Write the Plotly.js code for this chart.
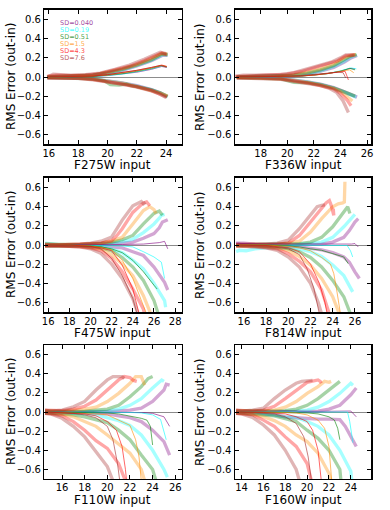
<!DOCTYPE html>
<html>
<head>
<meta charset="utf-8">
<script src="https://cdn.plot.ly/plotly-3.0.1.min.js"></script>
<style>
  html, body { margin: 0; padding: 0; background: #fff; }
  #chart { width: 390px; height: 510px; }
</style>
</head>
<body>
<div id="chart"></div>
<script>
// SD order: 0.040 purple, 0.19 cyan, 0.51 green, 1.5 orange, 4.3 red, 7.6 brown
const SD_LABELS = ["SD=0.040", "SD=0.19", "SD=0.51", "SD=1.5", "SD=4.3", "SD=7.6"];
const SD_RGB = [[128, 0, 128], [0, 255, 255], [0, 128, 0], [255, 140, 0], [255, 0, 0], [165, 42, 42]];
const FILTERS = ["F275W", "F336W", "F475W", "F814W", "F110W", "F160W"];
const Y_TICKS = [-0.6, -0.4, -0.2, 0, 0.2, 0.4, 0.6];

// each series is a flat list: x0, y0, x1, y1, ...
const F275W_UP = [
  [15.9,0.0, 17,0.005, 18,0.01, 19,0.02, 20,0.04, 21,0.07, 22,0.115, 23,0.17, 23.8,0.23, 24.1,0.225],
  [15.9,0.005, 17,0.005, 18,0.01, 19,0.02, 20,0.04, 21,0.075, 22,0.12, 23,0.175, 23.8,0.235, 24.1,0.23],
  [15.9,0.0, 17,0.005, 18,0.01, 19,0.02, 20,0.045, 21,0.08, 22,0.125, 23,0.18, 23.7,0.24, 24.1,0.235],
  [15.9,0.005, 17,0.01, 18,0.01, 19,0.02, 20,0.05, 21,0.085, 22,0.13, 23,0.19, 23.7,0.245, 24.1,0.24],
  [15.9,0.01, 16.5,0.02, 17.5,0.015, 18.5,0.02, 19.5,0.035, 20.5,0.07, 21.5,0.11, 22.5,0.17, 23.3,0.225, 23.7,0.25, 24.05,0.235],
  [15.9,0.0, 16.3,0.03, 16.8,0.025, 17.5,0.02, 18.5,0.025, 19.5,0.04, 20.5,0.08, 21.5,0.125, 22.5,0.185, 23.2,0.235, 23.6,0.26, 24.0,0.245],
];
const F275W_LO = [
  [15.9,-0.005, 17,-0.005, 18,-0.01, 19,-0.02, 20,-0.04, 21,-0.06, 22,-0.09, 23,-0.13, 23.6,-0.165, 24.1,-0.205],
  [15.9,-0.005, 17,-0.005, 18,-0.01, 19,-0.02, 20,-0.04, 21,-0.065, 22,-0.095, 23,-0.135, 23.6,-0.17, 24.1,-0.21],
  [15.9,-0.005, 17,-0.01, 18,-0.01, 19,-0.02, 19.8,-0.04, 20.2,-0.08, 20.8,-0.085, 21.3,-0.075, 21.6,-0.09, 22,-0.1, 23,-0.135, 23.6,-0.165, 24.1,-0.2],
  [15.9,-0.005, 17,-0.01, 18,-0.01, 19,-0.025, 20,-0.045, 21,-0.065, 22,-0.1, 23,-0.14, 23.6,-0.17, 24.1,-0.2],
  [15.9,-0.01, 17,-0.01, 18,-0.015, 19,-0.025, 20,-0.05, 21,-0.07, 22,-0.1, 23,-0.14, 23.6,-0.175, 24.05,-0.21],
  [15.9,-0.01, 17,-0.015, 18,-0.015, 19,-0.03, 20,-0.05, 21,-0.075, 22,-0.105, 23,-0.145, 23.6,-0.18, 24.0,-0.215],
];
const F275W_MID = [
  [15.9,0.0, 18,0.0, 19,0.005, 20,0.015, 21,0.03, 22,0.05, 23,0.08, 23.7,0.11, 24.05,0.1],
  [15.9,0.0, 18,0.0, 19,0.005, 20,0.015, 21,0.03, 22,0.055, 23,0.085, 23.7,0.115, 24.05,0.105],
  [15.9,0.0, 18,0.0, 19,0.005, 20,0.02, 21,0.035, 22,0.06, 23,0.09, 23.7,0.12, 24.05,0.105],
  [15.9,0.0, 18,0.005, 19,0.01, 20,0.02, 21,0.04, 22,0.065, 23,0.095, 23.7,0.12, 24.05,0.11],
  [15.9,0.0, 18,0.005, 19,0.01, 20,0.025, 21,0.045, 22,0.07, 23,0.1, 23.7,0.125, 24.05,0.11],
  [15.9,0.005, 18,0.005, 19,0.01, 20,0.025, 21,0.045, 22,0.07, 23,0.1, 23.6,0.12, 24.0,0.105],
];

const F336W_UP = [
  [16.2,0.0, 18,0.005, 19.5,0.01, 20.5,0.015, 21.5,0.03, 22.5,0.06, 23.5,0.1, 24.3,0.155, 24.8,0.2, 25.25,0.225],
  [16.2,0.0, 18,0.005, 19.5,0.01, 20.5,0.02, 21.5,0.035, 22.5,0.065, 23.5,0.11, 24.3,0.165, 24.8,0.21, 25.25,0.23],
  [16.2,0.0, 18,0.005, 19.5,0.01, 20.5,0.02, 21.5,0.04, 22.5,0.075, 23.5,0.12, 24.2,0.17, 24.7,0.215, 25.2,0.235],
  [16.2,0.0, 18,0.005, 19.5,0.01, 20.5,0.025, 21.5,0.05, 22.5,0.085, 23.5,0.135, 24.3,0.2, 24.8,0.225, 25.2,0.235],
  [16.1,0.005, 17.5,0.015, 18.8,0.02, 20,0.03, 21,0.055, 22,0.095, 23,0.13, 23.8,0.17, 24.4,0.22, 25.1,0.235],
  [16.1,0.01, 16.7,0.02, 17.5,0.02, 18.5,0.02, 19.5,0.025, 20.5,0.045, 21.5,0.085, 22.5,0.12, 23.3,0.155, 24,0.2, 24.4,0.23, 25.0,0.23],
];
const F336W_LO = [
  [16.2,-0.005, 18,-0.005, 19.5,-0.015, 20.5,-0.03, 21.5,-0.05, 22.5,-0.075, 23.5,-0.11, 24.2,-0.15, 24.8,-0.185, 25.25,-0.21],
  [16.2,-0.005, 18,-0.005, 19.5,-0.015, 20.5,-0.03, 21.5,-0.05, 22.5,-0.08, 23.5,-0.115, 24,-0.145, 24.6,-0.175, 25.2,-0.21],
  [16.2,-0.005, 18,-0.01, 19.5,-0.02, 20.5,-0.055, 21.5,-0.06, 22.5,-0.08, 23.5,-0.115, 24.2,-0.15, 24.7,-0.18, 25.1,-0.2],
  [16.2,-0.005, 18,-0.01, 19.5,-0.02, 20.5,-0.035, 21.5,-0.055, 22.5,-0.085, 23.5,-0.12, 24,-0.15, 24.5,-0.2, 24.9,-0.25],
  [16.2,-0.01, 18,-0.01, 19.5,-0.02, 20.5,-0.04, 21.5,-0.06, 22.5,-0.09, 23.5,-0.125, 24,-0.17, 24.5,-0.24, 24.8,-0.3],
  [16.2,-0.01, 18,-0.015, 19.5,-0.025, 20.5,-0.045, 21.5,-0.065, 22.5,-0.09, 23.2,-0.12, 23.7,-0.16, 24.2,-0.25, 24.6,-0.37],
];
const F336W_MID = [
  [16.2,0.0, 19,0.0, 21,0.01, 22,0.02, 23,0.035, 24,0.06, 24.7,0.09, 25.1,0.085],
  [16.2,0.0, 19,0.0, 21,0.01, 22,0.02, 23,0.035, 24,0.065, 24.8,0.095, 25.2,0.085],
  [16.2,0.0, 19,0.005, 21,0.01, 22,0.02, 23,0.035, 24,0.06, 24.7,0.09, 25.1,0.075],
  [16.2,0.0, 19,0.005, 21,0.01, 22,0.02, 23,0.035, 24,0.06, 24.7,0.075, 25.0,0.045],
  [16.2,0.0, 19,0.005, 21,0.01, 22,0.02, 23,0.035, 24,0.055, 24.35,0.06, 24.6,-0.03],
  [16.2,0.005, 19,0.005, 21,0.015, 22,0.025, 23,0.035, 23.8,0.05, 24.2,0.045, 24.4,-0.01],
];

const F475W_UP = [
  [15.7,0.01, 17,0.0, 19,0.005, 21,0.01, 22,0.015, 23,0.02, 24,0.03, 25,0.07, 26,0.12, 26.5,0.18, 26.8,0.24, 27.3,0.265],
  [15.7,0.02, 17,0.005, 19,0.005, 21,0.01, 22,0.02, 23,0.035, 24,0.06, 25,0.13, 26,0.22, 26.5,0.28, 26.7,0.31, 27.0,0.32],
  [15.7,0.01, 17,0.005, 19,0.005, 21,0.015, 22,0.03, 23,0.055, 24,0.1, 25,0.22, 26,0.33, 26.5,0.355, 26.8,0.31],
  [15.7,0.01, 17,0.005, 19,0.01, 21,0.02, 22,0.04, 23,0.08, 24,0.22, 25,0.36, 25.6,0.4, 26.0,0.37, 26.2,0.33],
  [15.7,0.0, 17,0.0, 19,0.01, 21,0.02, 22,0.045, 22.5,0.1, 23,0.17, 24,0.34, 25,0.44, 25.3,0.45, 25.6,0.41],
  [15.7,0.0, 17,0.0, 19,0.01, 20,0.02, 21,0.04, 22,0.084, 22.5,0.17, 23,0.26, 24,0.41, 24.5,0.44, 24.8,0.455, 25.0,0.43, 25.2,0.445],
];
const F475W_LO = [
  [15.7,-0.01, 17,-0.005, 19,-0.005, 21,-0.01, 22,-0.02, 23,-0.03, 24,-0.07, 25,-0.11, 26,-0.23, 27,-0.39, 27.3,-0.47],
  [15.7,-0.01, 17,-0.005, 19,-0.01, 21,-0.02, 22,-0.04, 23,-0.08, 24,-0.16, 25,-0.25, 26,-0.4, 27,-0.58, 27.1,-0.65],
  [15.7,-0.01, 17,-0.01, 19,-0.01, 21,-0.03, 22,-0.06, 23,-0.13, 24,-0.23, 25,-0.37, 26,-0.58, 26.4,-0.72],
  [15.7,-0.01, 17,-0.01, 19,-0.015, 21,-0.04, 22,-0.1, 23,-0.2, 24,-0.32, 25,-0.53, 25.7,-0.72],
  [15.7,-0.01, 17,-0.01, 19,-0.02, 20,-0.03, 21,-0.06, 22,-0.14, 23,-0.28, 24,-0.46, 25,-0.67, 25.1,-0.72],
  [15.7,-0.01, 17,-0.01, 19,-0.02, 20,-0.04, 21,-0.09, 22,-0.2, 23,-0.35, 24,-0.56, 24.5,-0.72],
];
const F475W_MID = [
  [15.7,0.0, 18,0.0, 21,0.0, 23,0.005, 25,0.01, 26,0.015, 26.5,0.025, 27,0.038, 27.3,-0.04],
  [15.7,0.0, 18,0.0, 21,-0.005, 23,-0.01, 24,-0.02, 25,-0.07, 26,-0.125, 26.7,-0.18, 27.0,-0.35],
  [15.7,0.0, 18,0.0, 20,-0.01, 21,-0.02, 22,-0.04, 23,-0.08, 24,-0.16, 25,-0.28, 26,-0.42, 26.3,-0.46],
  [15.7,0.0, 18,0.0, 20,-0.01, 21,-0.025, 22,-0.05, 23,-0.16, 24,-0.35, 25,-0.63, 25.3,-0.72],
  [15.7,0.0, 18,0.0, 20,-0.015, 21,-0.03, 22,-0.06, 23,-0.21, 24,-0.46, 24.6,-0.72],
  [15.7,0.0, 18,-0.005, 20,-0.015, 21,-0.04, 22,-0.14, 23,-0.32, 24,-0.56, 24.4,-0.72],
];

const F814W_UP = [
  [15.3,0.02, 16,0.02, 17,0.01, 19,0.005, 21,0.005, 23,0.01, 24,0.03, 25,0.08, 25.5,0.15, 26,0.24, 26.3,0.275],
  [15.3,0.0, 17,0.005, 19,0.005, 21,0.01, 22,0.015, 23,0.03, 24,0.08, 25,0.19, 25.6,0.275, 26.0,0.32],
  [15.3,0.0, 17,0.005, 19,0.01, 21,0.015, 22,0.03, 23,0.08, 24,0.19, 25,0.345, 25.35,0.40, 25.55,0.33],
  [15.3,0.005, 17,0.005, 19,0.01, 20,0.02, 21,0.04, 22,0.135, 23,0.275, 24,0.40, 24.5,0.43, 24.9,0.44, 25.05,0.45, 25.1,0.66],
  [15.3,0.005, 17,0.005, 19,0.01, 20,0.02, 21,0.1, 22,0.24, 23,0.39, 23.4,0.44, 23.7,0.465, 23.85,0.42, 24.1,0.31, 24.05,0.38],
  [15.3,0.01, 17,0.005, 18,0.01, 19,0.02, 20,0.05, 21,0.17, 22,0.31, 22.6,0.40, 23,0.415, 23.3,0.42],
];
const F814W_LO = [
  [15.3,0.0, 17,-0.005, 19,-0.01, 21,-0.02, 23,-0.05, 24,-0.08, 25,-0.125, 25.5,-0.18, 26,-0.28, 26.4,-0.35],
  [15.3,-0.07, 15.6,-0.055, 16.2,-0.06, 17,-0.04, 18,-0.03, 20,-0.03, 21,-0.04, 22,-0.07, 23,-0.12, 24,-0.21, 25,-0.32, 25.8,-0.49],
  [15.3,-0.01, 17,-0.01, 19,-0.02, 20,-0.04, 21,-0.07, 22,-0.13, 23,-0.23, 24,-0.37, 25,-0.54, 25.6,-0.72],
  [15.3,-0.01, 17,-0.01, 19,-0.03, 20,-0.06, 21,-0.12, 22,-0.21, 23,-0.35, 24,-0.54, 24.6,-0.72],
  [15.3,-0.01, 17,-0.015, 19,-0.04, 20,-0.09, 21,-0.17, 22,-0.28, 23,-0.47, 23.5,-0.63, 23.7,-0.72],
  [15.3,-0.01, 17,-0.02, 18,-0.03, 19,-0.055, 20,-0.125, 21,-0.23, 22,-0.4, 22.7,-0.6, 23.0,-0.72],
];
const F814W_MID = [
  [15.3,0.02, 16,0.015, 18,0.01, 20,0.01, 22,0.005, 24,0.005, 25,0.005, 25.7,0.01, 26,0.015, 26.3,-0.02],
  [15.3,0.0, 18,0.0, 20,0.0, 22,-0.005, 24,-0.005, 25.3,-0.005, 25.6,-0.06, 25.8,-0.125],
  [15.3,0.0, 18,0.0, 20,-0.01, 21,-0.02, 22,-0.04, 23,-0.055, 24,-0.09, 25,-0.125, 25.4,-0.195],
  [15.3,0.0, 18,0.0, 20,-0.015, 21,-0.03, 22,-0.06, 23,-0.13, 23.8,-0.2, 24.1,-0.3, 24.4,-0.5, 24.7,-0.72],
  [15.3,0.0, 18,-0.005, 20,-0.03, 21,-0.07, 22,-0.2, 22.8,-0.4, 23.3,-0.6, 23.5,-0.72],
  [15.3,0.0, 18,-0.01, 20,-0.04, 21,-0.1, 21.7,-0.25, 22.3,-0.45, 22.8,-0.72],
];

const F110W_UP = [
  [14.5,0.01, 16,0.005, 18,0.005, 20,0.005, 22,0.02, 23,0.04, 24,0.11, 25,0.23, 25.2,0.29, 25.5,0.28],
  [14.5,0.01, 16,0.005, 18,0.005, 20,0.01, 21,0.03, 22,0.07, 23,0.14, 24,0.25, 24.8,0.335, 25.0,0.32],
  [14.5,0.01, 16,0.005, 18,0.01, 19,0.02, 20,0.03, 21,0.07, 22,0.16, 23,0.265, 23.6,0.35, 24.0,0.37],
  [14.5,0.015, 16,0.01, 17,0.02, 18,0.03, 19,0.05, 20,0.11, 21,0.195, 22,0.3, 22.5,0.37, 23,0.37, 23.3,0.28],
  [14.5,0.02, 16,0.015, 17,0.03, 18,0.06, 19,0.125, 20,0.23, 21,0.335, 21.5,0.37, 22,0.36, 22.3,0.33, 22.6,0.32],
  [14.5,0.02, 15,0.01, 16,0.02, 17,0.055, 18,0.11, 19,0.23, 20,0.335, 20.5,0.37, 21.3,0.37, 21.5,0.35],
];
const F110W_LO = [
  [14.5,-0.01, 16,-0.005, 18,-0.01, 20,-0.02, 21,-0.04, 22,-0.06, 23,-0.1, 24,-0.19, 25,-0.31, 25.5,-0.45],
  [14.5,-0.01, 16,-0.01, 18,-0.02, 19,-0.03, 20,-0.06, 21,-0.09, 22,-0.14, 23,-0.24, 24,-0.4, 25,-0.6, 25.3,-0.68],
  [14.5,-0.01, 16,-0.02, 17,-0.03, 18,-0.05, 19,-0.08, 20,-0.11, 21,-0.19, 22,-0.29, 23,-0.45, 24,-0.6, 24.3,-0.72],
  [14.5,-0.01, 16,-0.025, 17,-0.05, 18,-0.1, 19,-0.15, 20,-0.24, 21,-0.33, 22,-0.43, 23,-0.6, 23.3,-0.72],
  [14.5,-0.015, 15,-0.02, 16,-0.04, 17,-0.1, 18,-0.19, 19,-0.3, 20,-0.38, 21,-0.54, 21.6,-0.72],
  [14.5,-0.015, 15,-0.02, 16,-0.066, 17,-0.15, 18,-0.26, 19,-0.41, 20,-0.57, 20.5,-0.72],
];
const F110W_MID = [
  [14.5,0.0, 18,0.0, 22,0.0, 23,-0.005, 24,-0.014, 25,-0.05, 25.5,-0.15],
  [14.5,0.0, 18,0.0, 22,-0.005, 23,-0.01, 24,-0.03, 24.7,-0.077, 25.0,-0.19, 25.2,-0.29],
  [14.5,0.0, 18,-0.005, 20,-0.01, 21,-0.02, 22,-0.04, 23,-0.066, 23.5,-0.085, 23.8,-0.15, 24.0,-0.345],
  [14.5,0.0, 18,-0.01, 19,-0.02, 20,-0.03, 21,-0.085, 22,-0.14, 22.5,-0.29, 22.8,-0.47, 23.0,-0.72],
  [14.5,0.0, 17,-0.01, 18,-0.02, 19,-0.04, 20,-0.1, 20.8,-0.19, 21.3,-0.36, 21.6,-0.6, 21.7,-0.72],
  [14.5,0.0, 17,-0.015, 18,-0.03, 19,-0.06, 20,-0.15, 20.5,-0.29, 20.9,-0.54, 21.1,-0.72],
];

const F160W_UP = [
  [13.5,0.01, 15,0.005, 17,0.005, 19,0.005, 21,0.01, 22,0.03, 23,0.07, 24,0.18, 24.5,0.25],
  [13.5,0.01, 15,0.005, 17,0.005, 19,0.01, 20,0.02, 21,0.05, 22,0.11, 23,0.195, 23.6,0.265, 24,0.3, 24.2,0.28],
  [13.5,0.01, 15,0.01, 17,0.01, 18,0.015, 19,0.03, 20,0.07, 21,0.14, 22,0.23, 22.5,0.28, 23,0.32],
  [13.5,0.015, 15,0.01, 16,0.01, 17,0.02, 18,0.05, 19,0.11, 20,0.195, 21,0.265, 21.6,0.32, 22,0.31, 22.2,0.32],
  [13.5,0.02, 15,0.01, 16,0.02, 17,0.06, 18,0.14, 19,0.23, 20,0.31, 21,0.335, 21.2,0.32, 21.3,0.30],
  [13.5,0.02, 14,0.01, 15,0.02, 16,0.04, 17,0.14, 18,0.23, 19,0.3, 19.5,0.32, 20.5,0.33],
];
const F160W_LO = [
  [13.5,-0.01, 15,-0.01, 17,-0.03, 18,-0.05, 19,-0.06, 20,-0.07, 21,-0.075, 22,-0.075, 23,-0.08, 23.5,-0.15, 24,-0.26, 24.5,-0.36],
  [13.5,0.0, 15,-0.01, 17,-0.03, 18,-0.05, 19,-0.056, 20,-0.1, 21,-0.15, 22,-0.24, 23,-0.4, 24,-0.62, 24.1,-0.72],
  [13.5,-0.01, 15,-0.02, 17,-0.04, 18,-0.07, 19,-0.1, 20,-0.19, 21,-0.275, 22,-0.4, 23,-0.6, 23.1,-0.72],
  [13.5,-0.01, 15,-0.025, 16,-0.05, 17,-0.09, 18,-0.15, 19,-0.24, 20,-0.31, 21,-0.43, 22,-0.64, 22.2,-0.72],
  [13.5,-0.015, 15,-0.03, 16,-0.085, 17,-0.15, 18,-0.26, 19,-0.36, 20,-0.54, 20.4,-0.72],
  [13.5,-0.015, 14,-0.02, 15,-0.056, 16,-0.136, 17,-0.24, 18,-0.4, 19,-0.6, 19.3,-0.72],
];
const F160W_MID = [
  [13.5,0.005, 16,0.01, 18,0.01, 20,0.005, 22,0.005, 23,0.005, 24,0.01, 24.5,-0.05],
  [13.5,0.0, 16,0.0, 18,0.0, 20,0.0, 22,0.0, 23.7,0.0, 23.9,-0.1, 24.1,-0.29, 24.2,-0.32],
  [13.5,0.0, 16,0.0, 18,-0.005, 20,-0.01, 21,-0.02, 22,-0.05, 22.5,-0.085, 22.8,-0.17, 23,-0.29],
  [13.5,0.0, 16,0.0, 18,-0.005, 19,-0.01, 20,-0.03, 21,-0.085, 21.6,-0.17, 22,-0.36, 22.2,-0.6, 22.25,-0.72],
  [13.5,0.0, 16,-0.005, 18,-0.02, 19,-0.05, 20,-0.1, 20.5,-0.19, 21,-0.4, 21.3,-0.72],
  [13.5,0.0, 16,-0.01, 17,-0.02, 18,-0.05, 19,-0.12, 19.7,-0.26, 20.1,-0.47, 20.4,-0.72],
];

const PANELS = [
  [F275W_UP, F275W_LO, F275W_MID],
  [F336W_UP, F336W_LO, F336W_MID],
  [F475W_UP, F475W_LO, F475W_MID],
  [F814W_UP, F814W_LO, F814W_MID],
  [F110W_UP, F110W_LO, F110W_MID],
  [F160W_UP, F160W_LO, F160W_MID],
];

// layout of the 3x2 grid
const X_RANGES = [[15.7, 25.05], [16.07, 26.3], [15.65, 28.6], [15.2, 27.45], [14.45, 26.55], [13.4, 25.85]];
const COL_DOM = [[0.114, 0.4654], [0.6026, 0.9513]];
const ROW_DOM = [[0.7176, 0.9804], [0.3882, 0.651], [0.0608, 0.3235]];
const FONT = "DejaVu Sans, Arial, sans-serif";

function rgba(c, a) {
  return `rgba(${c[0]},${c[1]},${c[2]},${a})`;
}

function unpack(flat) {
  const x = [], y = [];
  for (let i = 0; i < flat.length; i += 2) {
    x.push(flat[i]);
    y.push(flat[i + 1]);
  }
  return { x, y };
}

const traces = [];
PANELS.forEach((p, k) => {
  const xa = k ? "x" + (k + 1) : "x";
  const ya = k ? "y" + (k + 1) : "y";
  SD_RGB.forEach((c, i) => {
    [p[0][i], p[1][i]].forEach((flat) => {
      const d = unpack(flat);
      traces.push({
        x: d.x, y: d.y, xaxis: xa, yaxis: ya,
        type: "scatter", mode: "lines",
        line: { color: rgba(c, 0.35), width: 3.3 },
        hoverinfo: "skip", showlegend: false,
      });
    });
  });
  SD_RGB.forEach((c, i) => {
    const d = unpack(p[2][i]);
    traces.push({
      x: d.x, y: d.y, xaxis: xa, yaxis: ya,
      type: "scatter", mode: "lines",
      line: { color: rgba(c, 0.6), width: 1 },
      hoverinfo: "skip", showlegend: false,
    });
  });
});

const layout = {
  width: 390,
  height: 510,
  margin: { l: 0, r: 0, t: 0, b: 0 },
  paper_bgcolor: "#fff",
  plot_bgcolor: "#fff",
  font: { family: FONT, size: 10, color: "#000" },
  showlegend: false,
  annotations: [],
};

const axisCommon = {
  showline: true, linecolor: "#000", linewidth: 1.5, mirror: "ticks",
  ticks: "inside", ticklen: 4, tickwidth: 1, tickcolor: "#000",
  showgrid: false,
  tickfont: { family: FONT, size: 10, color: "#000" },
};

FILTERS.forEach((f, k) => {
  const col = k % 2, row = Math.floor(k / 2);
  const sfx = k ? String(k + 1) : "";
  layout["xaxis" + sfx] = Object.assign({}, axisCommon, {
    domain: COL_DOM[col], anchor: "y" + sfx, range: X_RANGES[k],
    tick0: 0, dtick: 2, zeroline: false, ticklabelstandoff: -1,
  });
  layout["yaxis" + sfx] = Object.assign({}, axisCommon, {
    domain: ROW_DOM[row], anchor: "x" + sfx, range: [-0.7, 0.7],
    tickvals: Y_TICKS, tickformat: ".1f",
    zeroline: true, zerolinecolor: "#8c8c8c", zerolinewidth: 1,
  });
  const xMid = (COL_DOM[col][0] + COL_DOM[col][1]) / 2;
  const yMid = (ROW_DOM[row][0] + ROW_DOM[row][1]) / 2;
  layout.annotations.push({
    text: f + " input", xref: "paper", yref: "paper",
    x: xMid, y: ROW_DOM[row][0] - 21 / 510, xanchor: "center", yanchor: "middle",
    showarrow: false, font: { family: FONT, size: 12, color: "#000" },
  });
  layout.annotations.push({
    text: "RMS Error (out-in)", xref: "paper", yref: "paper",
    x: col ? 200 / 390 : 11 / 390, y: yMid, xanchor: "center", yanchor: "middle",
    textangle: -90, showarrow: false, font: { family: FONT, size: 12, color: "#000" },
  });
});

// SD key inside the first panel
SD_LABELS.forEach((lab, i) => {
  layout.annotations.push({
    text: lab, xref: "x", yref: "y", x: 16.7, y: 0.565 - i * 0.073,
    xanchor: "left", yanchor: "middle", showarrow: false,
    borderpad: 0,
    font: { family: FONT, size: 6.5, color: rgba(SD_RGB[i], 0.75) },
  });
});

Plotly.newPlot("chart", traces, layout, { displayModeBar: false, staticPlot: true });
</script>
</body>
</html>
